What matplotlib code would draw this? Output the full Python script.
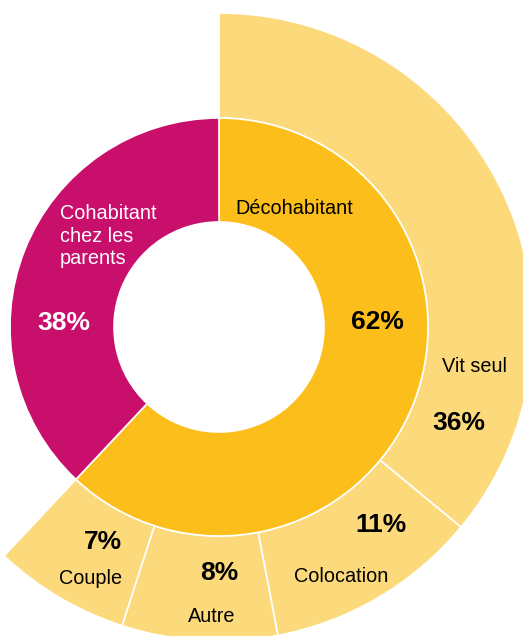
import matplotlib
matplotlib.use('Agg')
import matplotlib.pyplot as plt

plt.rcParams['font.family'] = ['Liberation Sans', 'DejaVu Sans']

# inner ring: does the young person still live with the parents?
statut = ['Décohabitant', 'Cohabitant\nchez les\nparents']
statut_pct = [62, 38]

# outer ring: how the "décohabitants" live
logement = ['Vit seul', 'Colocation', 'Autre', 'Couple']
logement_pct = [36, 11, 8, 7]

gold = '#FBBE1A'
magenta = '#C90F6C'
light = '#FCD97A'

fig = plt.figure(figsize=(5.23, 6.36), dpi=100)
ax = fig.add_axes([0, 0, 1, 1])

# work in pixel units so the rings can run off the right and bottom edges
cx, cy = 219, 309
r_out, r_mid, r_in = 314, 209, 105
edge = dict(edgecolor='white', linewidth=1.2)

outer, _ = ax.pie(logement_pct + [statut_pct[1]], radius=r_out, center=(cx, cy),
                  startangle=90, counterclock=False,
                  colors=[light] * len(logement_pct) + ['none'],
                  wedgeprops=dict(width=r_out - r_mid, **edge))
outer[-1].set_visible(False)

inner, _ = ax.pie(statut_pct, radius=r_mid, center=(cx, cy),
                  startangle=90, counterclock=False,
                  colors=[gold, magenta],
                  wedgeprops=dict(width=r_mid - r_in, **edge))

ax.set_xlim(0, 523)
ax.set_ylim(0, 636)
ax.set_aspect('equal')
ax.axis('off')

H = 636
reg = 14.3
big = 19

# inner ring labels
ax.text(294, H - 209, statut[0], ha='center', va='center', fontsize=reg, color='black')
ax.text(377, H - 322, f'{statut_pct[0]}%', ha='center', va='center',
        fontsize=big, fontweight='bold', color='black')
ax.text(60, H - 236, statut[1], ha='left', va='center', fontsize=reg,
        color='white', linespacing=1.25)
ax.text(64, H - 323, f'{statut_pct[1]}%', ha='center', va='center',
        fontsize=big, fontweight='bold', color='white')

# outer ring labels: (name x, name y, pct x, pct y)
spots = [(475, 367, 459, 423),
         (341, 576, 381, 525),
         (212, 616, 219, 573),
         (91, 579, 103, 542)]
for name, pct, (nx, ny, px, py) in zip(logement, logement_pct, spots):
    ax.text(nx, H - ny, name, ha='center', va='center', fontsize=reg, color='black')
    ax.text(px, H - py, f'{pct}%', ha='center', va='center',
            fontsize=big, fontweight='bold', color='black')

fig.savefig('out.png', dpi=100)
